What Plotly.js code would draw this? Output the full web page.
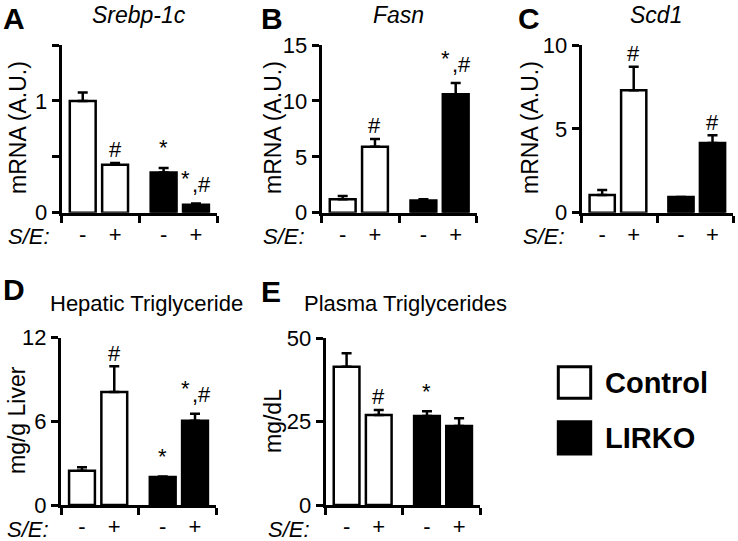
<!DOCTYPE html>
<html><head><meta charset="utf-8">
<script src="https://cdn.plot.ly/plotly-3.0.1.min.js"></script>
<style>html,body{margin:0;padding:0;background:#fff}#chart{width:738px;height:541px}</style>
</head><body><div id="chart"></div>
<script>
// ---------- data ----------
const genotypes = ['Control', 'LIRKO'];
const treatmentSigns = ['-', '+', '-', '+'];
const barGenotype = [0, 0, 1, 1];

const srebpMean = [1.0, 0.43, 0.36, 0.07];
const srebpErr  = [0.075, 0.015, 0.04, 0.012];
const srebpSig  = ['', '#', '*', '*,#'];
const srebpTickVals = [0, 0.5, 1, 1.5];
const srebpTickText = ['0', '', '1', ''];

const fasnMean = [1.2, 5.9, 1.1, 10.6];
const fasnErr  = [0.3, 0.7, 0.1, 1.0];
const fasnSig  = ['', '#', '', '*,#'];
const fasnTickVals = [0, 5, 10, 15];
const fasnTickText = ['0', '5', '10', '15'];

const scdMean = [1.05, 7.3, 0.93, 4.15];
const scdErr  = [0.3, 1.4, 0.0, 0.47];
const scdSig  = ['', '#', '', '#'];
const scdTickVals = [0, 5, 10];
const scdTickText = ['0', '5', '10'];

const hepMean = [2.45, 8.1, 2.0, 6.05];
const hepErr  = [0.25, 1.85, 0.05, 0.5];
const hepSig  = ['', '#', '*', '*,#'];
const hepTickVals = [0, 6, 12];
const hepTickText = ['0', '6', '12'];

const plasMean = [41.5, 27.0, 26.7, 23.7];
const plasErr  = [4.0, 1.5, 1.4, 2.3];
const plasSig  = ['', '#', '*', ''];
const plasTickVals = [0, 25, 50];
const plasTickText = ['0', '25', '50'];

// ---------- layout config ----------
const W = 738, H = 541;
const FONT = 'Liberation Sans, Arial, Helvetica, sans-serif';
const fillColors = ['#ffffff', '#000000'];
const px = v => v / W;
const py = v => 1 - v / H;

const panels = [
  {letter: 'A', title: 'Srebp-1c', italic: true, ytitle: 'mRNA (A.U.)', mean: srebpMean, err: srebpErr, sig: srebpSig, tv: srebpTickVals, tt: srebpTickText, ymax: 1.5,
   xd: [61.7, 217], yd: [45, 212.7], letterPos: [14, 0], top: true, titlePos: [139, 0], titleAnchor: 'center', ytPos: [18, 128], sePos: [28.5, 236.7]},
  {letter: 'B', title: 'Fasn', italic: true, ytitle: 'mRNA (A.U.)', mean: fasnMean, err: fasnErr, sig: fasnSig, tv: fasnTickVals, tt: fasnTickText, ymax: 15,
   xd: [321.7, 476.7], yd: [45, 212.7], letterPos: [271.5, 0], top: true, titlePos: [398, 0], titleAnchor: 'center', ytPos: [273, 128], sePos: [284, 236.7]},
  {letter: 'C', title: 'Scd1', italic: true, ytitle: 'mRNA (A.U.)', mean: scdMean, err: scdErr, sig: scdSig, tv: scdTickVals, tt: scdTickText, ymax: 10,
   xd: [581.7, 733], yd: [45, 212.7], letterPos: [528.5, 0], top: true, titlePos: [656, 0], titleAnchor: 'center', ytPos: [530, 128], sePos: [544, 236.7]},
  {letter: 'D', title: 'Hepatic Triglyceride', italic: false, ytitle: 'mg/g Liver', mean: hepMean, err: hepErr, sig: hepSig, tv: hepTickVals, tt: hepTickText, ymax: 12,
   xd: [61, 216], yd: [337.7, 505], letterPos: [13.5, 289.5], top: false, titlePos: [48, 303], titleAnchor: 'left', ytPos: [17, 420], sePos: [28, 529]},
  {letter: 'E', title: 'Plasma Triglycerides', italic: false, ytitle: 'mg/dL', mean: plasMean, err: plasErr, sig: plasSig, tv: plasTickVals, tt: plasTickText, ymax: 50,
   xd: [325.7, 480], yd: [338.3, 505], letterPos: [271, 291.5], top: false, titlePos: [302, 303], titleAnchor: 'left', ytPos: [273, 421], sePos: [288.5, 529]}
];

const xPos = treatmentSigns.map((s, i) => 0.65 + i + (i >= 2 ? 0.5 : 0));
const XMAX = 4.8;

const traces = [];
const layout = {
  width: W, height: H,
  margin: {l: 0, r: 0, t: 0, b: 0},
  paper_bgcolor: '#ffffff', plot_bgcolor: 'rgba(0,0,0,0)',
  showlegend: false,
  font: {family: FONT, size: 22, color: '#000'},
  annotations: [], shapes: []
};

panels.forEach((p, k) => {
  const n = k + 1;
  const xa = n === 1 ? 'x' : 'x' + n;
  const ya = n === 1 ? 'y' : 'y' + n;
  const xKey = n === 1 ? 'xaxis' : 'xaxis' + n;
  const yKey = n === 1 ? 'yaxis' : 'yaxis' + n;

  traces.push({
    type: 'bar', x: xPos, y: p.mean, width: 0.8,
    xaxis: xa, yaxis: ya,
    marker: {color: barGenotype.map(g => fillColors[g]), line: {color: '#000', width: 2.5}},
    error_y: {type: 'data', array: p.err, arrayminus: p.err.map(() => 0), symmetric: false,
              color: '#000', thickness: 2.5, width: 5},
    hoverinfo: 'skip'
  });

  layout[xKey] = {
    domain: [px(p.xd[0]), px(p.xd[1])], anchor: ya, range: [0, XMAX],
    showline: true, linecolor: '#000', linewidth: 3, showgrid: false, zeroline: false,
    tickmode: 'array', tickvals: xPos, ticktext: treatmentSigns, ticks: '',
    tickfont: {family: FONT, size: 22, color: '#000'},
    minor: {tickmode: 'array', tickvals: [0, XMAX / 2, XMAX], ticks: 'outside', ticklen: 7, tickwidth: 3, tickcolor: '#000', showgrid: false},
    fixedrange: true
  };
  layout[yKey] = {
    domain: [py(p.yd[1]), py(p.yd[0])], anchor: xa, range: [0, p.ymax],
    showline: true, linecolor: '#000', linewidth: 3, showgrid: false, zeroline: false,
    tickmode: 'array', tickvals: p.tv, ticktext: p.tt, ticks: 'outside', ticklen: 7, tickwidth: 3, tickcolor: '#000',
    tickfont: {family: FONT, size: 22, color: '#000'},
    fixedrange: true
  };

  // panel letter
  layout.annotations.push({xref: 'paper', yref: 'paper', x: px(p.letterPos[0]), y: py(p.letterPos[1]),
    xanchor: 'center', yanchor: p.top ? 'top' : 'middle', showarrow: false, text: '<b>' + p.letter + '</b>',
    font: {family: FONT, size: 30, color: '#000'}});
  // panel title
  layout.annotations.push({xref: 'paper', yref: 'paper', x: px(p.titlePos[0]), y: py(p.titlePos[1]),
    xanchor: p.titleAnchor, yanchor: p.top ? 'top' : 'middle', showarrow: false, text: p.italic ? '<i>' + p.title + '</i>' : p.title,
    font: {family: FONT, size: p.italic ? 23 : 22, color: '#000'}});
  // y axis title
  layout.annotations.push({xref: 'paper', yref: 'paper', x: px(p.ytPos[0]), y: py(p.ytPos[1]),
    xanchor: 'center', yanchor: 'middle', showarrow: false, text: p.ytitle, textangle: -90,
    font: {family: FONT, size: 23, color: '#000'}});
  // S/E label
  layout.annotations.push({xref: 'paper', yref: 'paper', x: px(p.sePos[0]), y: py(p.sePos[1]),
    xanchor: 'center', yanchor: 'middle', showarrow: false, text: '<i>S/E:</i>',
    font: {family: FONT, size: 22, color: '#000'}});

  // significance marks
  p.sig.forEach((s, i) => {
    if (!s) return;
    const top = p.mean[i] + p.err[i];
    const base = {xref: xa, yref: ya, x: xPos[i], y: top, xanchor: 'center', yanchor: 'middle', showarrow: false,
                  font: {family: FONT, size: 22, color: '#000'}};
    if (s === '#') {
      layout.annotations.push(Object.assign({}, base, {text: '#', yshift: 13}));
    } else if (s === '*') {
      layout.annotations.push(Object.assign({}, base, {text: '*', yshift: 20}));
    } else {
      const parts = s.split(',');
      layout.annotations.push(Object.assign({}, base, {text: parts[0], yshift: 25, xshift: -10}));
      layout.annotations.push(Object.assign({}, base, {text: ',' + parts[1], yshift: 19, xshift: 6}));
    }
  });
});

// legend (built from genotypes)
const legendBoxes = [[558.3, 366.7, 590.7, 398.3], [558.3, 421.7, 590.7, 454]];
const legendText = [[603, 382.5], [603, 438]];
genotypes.forEach((g, j) => {
  const b = legendBoxes[j];
  layout.shapes.push({type: 'rect', xref: 'paper', yref: 'paper', x0: px(b[0]), x1: px(b[2]), y0: py(b[3]), y1: py(b[1]),
    fillcolor: fillColors[j], line: {color: '#000', width: 3}});
  layout.annotations.push({xref: 'paper', yref: 'paper', x: px(legendText[j][0]), y: py(legendText[j][1]),
    xanchor: 'left', yanchor: 'middle', showarrow: false, text: '<b>' + g + '</b>',
    font: {family: FONT, size: 29, color: '#000'}});
});

Plotly.newPlot('chart', traces, layout, {displayModeBar: false, staticPlot: true});
</script>
</body></html>
